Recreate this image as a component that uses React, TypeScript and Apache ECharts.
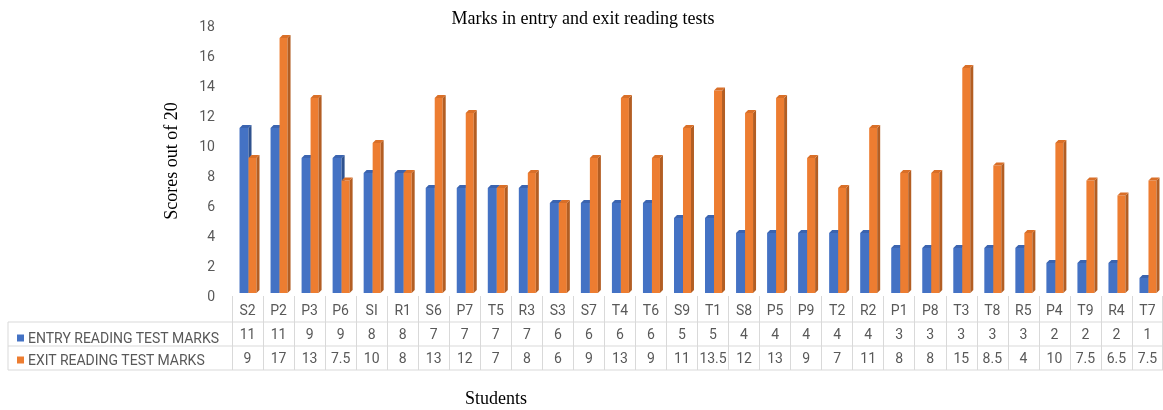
import React, { useEffect, useRef } from "react";
import * as echarts from "echarts";

const students = ["S2","P2","P3","P6","SI","R1","S6","P7","T5","R3","S3","S7","T4","T6","S9","T1","S8","P5","P9","T2","R2","P1","P8","T3","T8","R5","P4","T9","R4","T7"];
const entryMarks = [11,11,9,9,8,8,7,7,7,7,6,6,6,6,5,5,4,4,4,4,4,3,3,3,3,3,2,2,2,1];
const exitMarks = [9,17,13,7.5,10,8,13,12,7,8,6,9,13,9,11,13.5,12,13,9,7,11,8,8,15,8.5,4,10,7.5,6.5,7.5];
const seriesNames = ["ENTRY READING TEST MARKS", "EXIT READING TEST MARKS"];
const yTicks = { min: 0, max: 18, interval: 2 };

const SANS = "Roboto, 'Liberation Sans', sans-serif";
const SERIF = "'Liberation Serif', 'Times New Roman', serif";
const GRAY = "#595959";
const LINE = "#d9d9d9";

function make3D(offset: number, w: number, colors: string[]) {
  return (params: any, api: any) => {
    const idx = api.value(0);
    const val = api.value(1);
    const top = api.coord([idx, val]);
    const base = api.coord([idx, 0]);
    const lift = 3;
    const x0 = top[0] + offset;
    const x1 = x0 + w;
    const yT = top[1] - lift;
    const yB = base[1] - lift;
    const d = 3;
    return {
      type: "group",
      children: [
        { type: "rect", shape: { x: x0, y: yT, width: w, height: yB - yT }, style: { fill: colors[0] } },
        { type: "polygon", shape: { points: [[x1, yT], [x1 + d, yT - d], [x1 + d, yB - d], [x1, yB]] }, style: { fill: colors[1] } },
        { type: "polygon", shape: { points: [[x0, yT], [x0 + d, yT - d], [x1 + d, yT - d], [x1, yT]] }, style: { fill: colors[2] } },
      ],
    };
  };
}

export default function App() {
  const ref = useRef<HTMLDivElement>(null);
  useEffect(() => {
    if (!ref.current) return;
    const chart = echarts.init(ref.current, null, { renderer: "svg" });
    const blueData = entryMarks.map((v, i) => [i, v]);
    const orangeData = exitMarks.map((v, i) => [i, v]);
    chart.setOption({
      animation: false,
      title: {
        text: "Marks in entry and exit reading tests",
        left: 578,
        textAlign: "center",
        top: 4,
        textStyle: { fontFamily: SERIF, fontSize: 18, fontWeight: "normal", color: "#000" },
      },
      legend: {
        orient: "vertical",
        left: 12,
        top: 326,
        itemWidth: 7,
        itemHeight: 7,
        itemGap: 8,
        icon: "rect",
        selectedMode: false,
        data: [
          { name: seriesNames[0], itemStyle: { color: "#4472C4" } },
          { name: seriesNames[1], itemStyle: { color: "#ED7D31" } },
        ],
        textStyle: { fontFamily: SANS, fontSize: 14, color: GRAY, padding: [0, 0, 0, -1] },
      },
      grid: { left: 232, right: 0, top: 26, bottom: 114 },
      xAxis: {
        type: "category",
        data: students,
        boundaryGap: true,
        axisLine: { show: false },
        axisTick: { show: true, length: 74, interval: 0, lineStyle: { color: LINE } },
        axisLabel: {
          interval: 0,
          margin: 2,
          lineHeight: 24,
          fontFamily: SANS,
          fontSize: 14,
          color: GRAY,
          formatter: (v: string, i: number) => `${v}\n${entryMarks[i]}\n${exitMarks[i]}`,
        },
      },
      yAxis: {
        type: "value",
        min: yTicks.min,
        max: yTicks.max,
        interval: yTicks.interval,
        splitLine: { show: false },
        axisLine: { show: false },
        axisTick: { show: false },
        axisLabel: { fontFamily: SANS, fontSize: 14, color: GRAY, margin: 17 },
        name: "Scores out of 20",
        nameLocation: "middle",
        nameGap: 52,
        nameRotate: 90,
        nameTextStyle: { fontFamily: SERIF, fontSize: 18, color: "#000" },
      },
      series: [
        {
          name: seriesNames[0],
          type: "custom",
          itemStyle: { color: "#4472C4" },
          encode: { x: 0, y: 1 },
          data: blueData,
          renderItem: make3D(-8, 9, ["#4472C4", "#2F528F", "#3B64B0"]),
        },
        {
          name: seriesNames[1],
          type: "custom",
          itemStyle: { color: "#ED7D31" },
          encode: { x: 0, y: 1 },
          data: orangeData,
          renderItem: make3D(1, 8, ["#ED7D31", "#B35E23", "#D96F28"]),
        },
      ],
      graphic: [
        { type: "line", shape: { x1: 8, y1: 322, x2: 1163, y2: 322 }, style: { stroke: LINE, lineWidth: 1 } },
        { type: "line", shape: { x1: 8, y1: 346, x2: 1163, y2: 346 }, style: { stroke: LINE, lineWidth: 1 } },
        { type: "line", shape: { x1: 8, y1: 370, x2: 1163, y2: 370 }, style: { stroke: LINE, lineWidth: 1 } },
        { type: "line", shape: { x1: 8, y1: 322, x2: 8, y2: 370 }, style: { stroke: LINE, lineWidth: 1 } },
        { type: "line", shape: { x1: 1162.5, y1: 296, x2: 1162.5, y2: 370 }, style: { stroke: LINE, lineWidth: 1 } },
        {
          type: "text",
          x: 496,
          y: 398,
          style: { text: "Students", fontFamily: SERIF, fontSize: 18, fill: "#000", align: "center", verticalAlign: "middle" },
        },
      ],
    });
    return () => chart.dispose();
  }, []);
  return <div ref={ref} style={{ position: "fixed", left: 0, top: 0, width: 1163, height: 410 }} />;
}
